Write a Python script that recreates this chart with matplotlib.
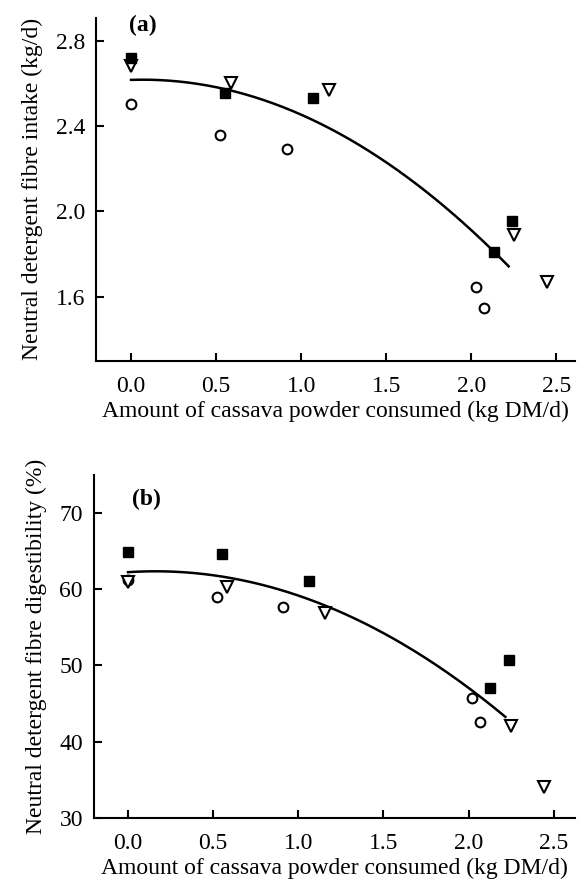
import matplotlib
matplotlib.use("Agg")
import matplotlib.pyplot as plt
import numpy as np

# ---- Data ----
# Panel (a): NDF intake (kg/d)
a_sq_x = [0.0, 0.555, 1.067, 2.131, 2.239]
a_sq_y = [2.72, 2.555, 2.531, 1.81, 1.955]
a_tri_x = [0.0, 0.588, 1.163, 2.249, 2.445]
a_tri_y = [2.68, 2.60, 2.569, 1.888, 1.67]
a_cir_x = [0.0, 0.525, 0.914, 2.026, 2.073]
a_cir_y = [2.503, 2.356, 2.292, 1.644, 1.545]
a_fit = [2.616, 0.026, -0.189]   # intercept, linear, quadratic
a_fit_range = [0.0, 2.22]

# Panel (b): NDF digestibility (%)
b_sq_x = [0.0, 0.553, 1.063, 2.128, 2.235]
b_sq_y = [64.9, 64.6, 61.1, 47.0, 50.7]
b_tri_x = [0.0, 0.582, 1.159, 2.249, 2.441]
b_tri_y = [60.9, 60.26, 56.84, 42.0, 34.0]
b_cir_x = [0.0, 0.52, 0.908, 2.022, 2.067]
b_cir_y = [61.2, 59.03, 57.63, 45.7, 42.54]
b_fit = [62.24, 1.453, -4.525]
b_fit_range = [0.0, 2.216]

x_ticks = [0.0, 0.5, 1.0, 1.5, 2.0, 2.5]
x_ticklabels = ["0.0", "0.5", "1.0", "1.5", "2.0", "2.5"]
a_yticks = [1.6, 2.0, 2.4, 2.8]
a_yticklabels = ["1.6", "2.0", "2.4", "2.8"]
b_yticks = [30, 40, 50, 60, 70]
b_yticklabels = ["30", "40", "50", "60", "70"]

xlabel = "Amount of cassava powder consumed (kg DM/d)"
a_ylabel = "Neutral detergent fibre intake (kg/d)"
b_ylabel = "Neutral detergent fibre digestibility (%)"

plt.rcParams['font.family'] = ['Liberation Serif', 'DejaVu Serif']
W, H = 577, 890
fig = plt.figure(figsize=(W / 100, H / 100), dpi=100)

def ax_at(left, top, right, bottom):
    return fig.add_axes([left / W, 1 - bottom / H, (right - left) / W, (bottom - top) / H])

ax1 = ax_at(96, 18, 575, 360.7)
ax2 = ax_at(94, 475, 575, 817.7)

FS = 17

def style(ax, xl, yl, yt, ytl, ylab):
    for s in ["top", "right"]:
        ax.spines[s].set_visible(False)
    for s in ["left", "bottom"]:
        ax.spines[s].set_linewidth(1.5)
    ax.set_xlim(*xl)
    ax.set_ylim(*yl)
    ax.set_xticks(x_ticks)
    ax.set_xticklabels(x_ticklabels)
    ax.set_yticks(yt)
    ax.set_yticklabels(ytl)
    ax.tick_params(axis="both", direction="in", length=6, width=1.5, labelsize=FS)
    ax.tick_params(axis="x", pad=11)
    ax.tick_params(axis="y", pad=8)
    ax.set_xlabel(xlabel, fontsize=FS, labelpad=3)
    ax.set_ylabel(ylab, fontsize=FS, labelpad=9)

def draw(ax, sx, sy, tx, ty, cx, cy, fit, rng):
    ax.plot(cx, cy, linestyle="none", marker="o", markersize=7, markerfacecolor="white",
            markeredgecolor="black", markeredgewidth=1.5, zorder=3)
    ax.plot(tx, ty, linestyle="none", marker="v", markersize=8, markerfacecolor="white",
            markeredgecolor="black", markeredgewidth=1.5, zorder=4)
    ax.plot(sx, sy, linestyle="none", marker="s", markersize=6.5, markerfacecolor="black",
            markeredgecolor="black", zorder=5)
    xs = np.linspace(rng[0], rng[1], 200)
    ys = fit[0] + fit[1] * xs + fit[2] * xs ** 2
    ax.plot(xs, ys, color="black", linewidth=1.8, zorder=2)

style(ax1, (-0.206, 2.61), (1.3, 2.906), a_yticks, a_yticklabels, a_ylabel)
draw(ax1, a_sq_x, a_sq_y, a_tri_x, a_tri_y, a_cir_x, a_cir_y, a_fit, a_fit_range)
ax1.text(0.068, 0.978, "(a)", transform=ax1.transAxes, fontsize=17, fontweight="bold",
         ha="left", va="center")

style(ax2, (-0.2, 2.625), (30, 75), b_yticks, b_yticklabels, b_ylabel)
draw(ax2, b_sq_x, b_sq_y, b_tri_x, b_tri_y, b_cir_x, b_cir_y, b_fit, b_fit_range)
ax2.text(0.08, 0.93, "(b)", transform=ax2.transAxes, fontsize=17, fontweight="bold",
         ha="left", va="center")

fig.savefig("out.png", dpi=100)
